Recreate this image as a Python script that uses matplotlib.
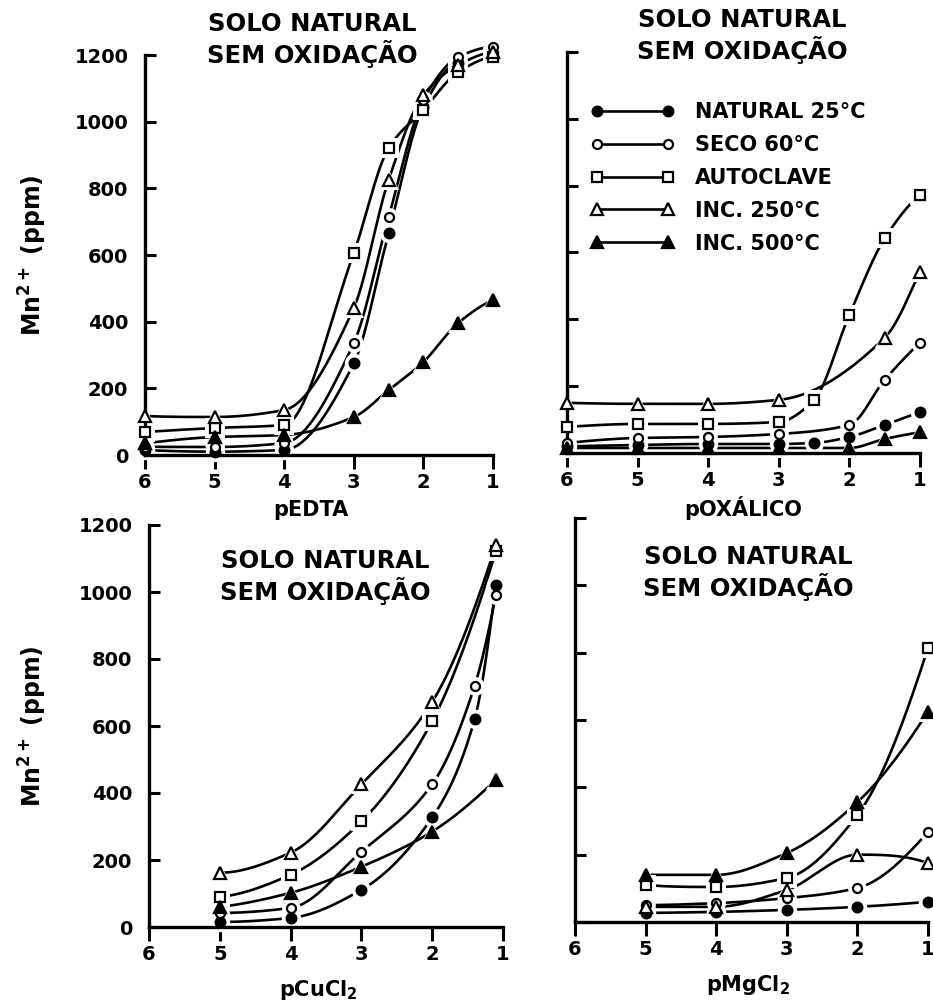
import numpy as np
import matplotlib
matplotlib.use("Agg")
import matplotlib.pyplot as plt
from matplotlib.lines import Line2D

plt.rcParams['font.family'] = ['DejaVu Sans']
plt.rcParams['font.weight'] = 'bold'
plt.rcParams['mathtext.default'] = 'bf'

nan = np.nan

# ---------------- data ----------------
series_names = ["NATURAL 25°C", "SECO 60°C", "AUTOCLAVE", "INC. 250°C", "INC. 500°C"]

x_edta = [6, 5, 4, 3, 2.5, 2, 1.5, 1]
edta_nat = [15, 10, 15, 275, 665, 1045, 1175, nan]
edta_seco = [25, 24, 36, 336, 714, 1065, 1194, 1224]
edta_auto = [69, 81, 90, 606, 921, 1035, 1149, 1194]
edta_250 = [117, 114, 135, 441, 825, 1080, 1170, 1210]
edta_500 = [35, 54, 60, 114, 195, 279, 396, 465]

x_oxa = [6, 5, 4, 3, 2.5, 2, 1.5, 1]
oxa_nat = [20, 24, 27, 27, 30, 48, 84, 123]
oxa_seco = [30, 45, 48, 57, nan, 84, 219, 330]
oxa_auto = [78, 87, 87, 93, 159, 414, 642, 771]
oxa_250 = [150, 147, 147, 159, nan, nan, 345, 543]
oxa_500 = [15, 15, 15, 15, nan, 15, 42, 62]

x_cu = [5, 4, 3, 2, 1.4, 1.1]
cu_nat = [15, 27, 111, 327, 621, 1020]
cu_seco = [42, 57, 225, 426, 720, 990]
cu_auto = [90, 156, 315, 615, nan, 1122]
cu_250 = [162, 222, 426, 672, nan, 1140]
cu_500 = [60, 102, 180, 285, nan, 440]

x_mg = [5, 4, 3, 2, 1]
mg_nat = [27, 30, 36, 45, 60]
mg_seco = [50, 56, 71, 101, 267]
mg_auto = [110, 104, 131, 318, 814]
mg_250 = [45, 45, 95, 200, 175]
mg_500 = [140, 140, 205, 356, 625]

x_ticks = [6, 5, 4, 3, 2, 1]
y_ticks = [0, 200, 400, 600, 800, 1000, 1200]
title_lines = "SOLO NATURAL\nSEM OXIDAÇÃO"
x_titles = ["pEDTA", "pOXÁLICO", "pCuCl$_{2}$", "pMgCl$_{2}$"]
y_title = "Mn$^{2+}$ (ppm)"

# marker styles: (marker, facecolor, size)
styles = [("o", "black", 7), ("o", "white", 6.5), ("s", "white", 7),
          ("^", "white", 8), ("^", "black", 8)]


def pchip(x, y, xn):
    x = np.asarray(x, float)
    y = np.asarray(y, float)
    n = len(x)
    if n == 2:
        return np.interp(xn, x, y)
    h = np.diff(x)
    d = np.diff(y) / h
    m = np.zeros(n)
    for k in range(1, n - 1):
        if d[k - 1] * d[k] <= 0:
            m[k] = 0.0
        else:
            w1 = 2 * h[k] + h[k - 1]
            w2 = h[k] + 2 * h[k - 1]
            m[k] = (w1 + w2) / (w1 / d[k - 1] + w2 / d[k])

    def endslope(h0, h1, d0, d1):
        s = ((2 * h0 + h1) * d0 - h0 * d1) / (h0 + h1)
        if np.sign(s) != np.sign(d0):
            s = 0.0
        elif np.sign(d0) != np.sign(d1) and abs(s) > abs(3 * d0):
            s = 3 * d0
        return s
    m[0] = endslope(h[0], h[1], d[0], d[1])
    m[-1] = endslope(h[-1], h[-2], d[-1], d[-2])
    out = np.empty_like(xn, dtype=float)
    idx = np.clip(np.searchsorted(x, xn) - 1, 0, n - 2)
    for i, xv in enumerate(xn):
        k = idx[i]
        t = (xv - x[k]) / h[k]
        h00 = 2 * t**3 - 3 * t**2 + 1
        h10 = t**3 - 2 * t**2 + t
        h01 = -2 * t**3 + 3 * t**2
        h11 = t**3 - t**2
        out[i] = h00 * y[k] + h10 * h[k] * m[k] + h01 * y[k + 1] + h11 * h[k] * m[k + 1]
    return out


W, H = 933, 1005
fig = plt.figure(figsize=(W / 100, H / 100), dpi=100)


def make_axes(l, r, b, t):
    return fig.add_axes([l / W, 1 - b / H, (r - l) / W, (b - t) / H])


def style_axes(ax, show_ylabels):
    ax.set_xlim(6, 1)
    ax.set_ylim(0, 1200)
    for s in ["top", "right"]:
        ax.spines[s].set_visible(False)
    for s in ["left", "bottom"]:
        ax.spines[s].set_linewidth(2.4)
    ax.set_xticks(x_ticks)
    ax.set_xticklabels([str(v) for v in x_ticks])
    ax.set_yticks(y_ticks)
    ax.set_yticklabels([str(v) for v in y_ticks])
    ax.tick_params(axis="x", direction="out", length=10, width=2.2, pad=3,
                   labelsize=14)
    ax.tick_params(axis="y", direction="in", length=8, width=2.2, pad=12,
                   labelsize=14, labelleft=show_ylabels)
    for lab in ax.get_xticklabels() + ax.get_yticklabels():
        lab.set_fontweight("bold")


def draw_panel(ax, xs, series):
    for (vals, (mk, fc, ms)) in zip(series, styles):
        xa = np.asarray(xs, float)
        ya = np.asarray(vals, float)
        ok = ~np.isnan(ya)
        xa, ya = xa[ok], ya[ok]
        order = np.argsort(xa)
        xa, ya = xa[order], ya[order]
        xn = np.linspace(xa[0], xa[-1], 300)
        yn = pchip(xa, ya, xn)
        ax.plot(xn, yn, color="black", lw=1.9, zorder=2, clip_on=False,
                solid_capstyle="butt")
    for (vals, (mk, fc, ms)) in zip(series, styles):
        ax.plot(xs, vals, ls="none", marker=mk, ms=ms + 7, mfc="white",
                mec="white", mew=0, zorder=2.5, clip_on=False)
    for (vals, (mk, fc, ms)) in zip(series, styles):
        ax.plot(xs, vals, ls="none", marker=mk, ms=ms, mfc=fc, mec="black",
                mew=1.6, zorder=3, clip_on=False)


ax_tl = make_axes(145, 493, 455, 55)
ax_tr = make_axes(567, 920, 453, 52)
ax_bl = make_axes(149, 503, 927, 525)
ax_br = make_axes(575, 928, 922, 518)

style_axes(ax_tl, True)
style_axes(ax_tr, False)
style_axes(ax_bl, True)
style_axes(ax_br, False)

draw_panel(ax_tl, x_edta, [edta_nat, edta_seco, edta_auto, edta_250, edta_500])
draw_panel(ax_tr, x_oxa, [oxa_nat, oxa_seco, oxa_auto, oxa_250, oxa_500])
draw_panel(ax_bl, x_cu, [cu_nat, cu_seco, cu_auto, cu_250, cu_500])
draw_panel(ax_br, x_mg, [mg_nat, mg_seco, mg_auto, mg_250, mg_500])

# titles
for (cx, cy) in [(312, 40), (742, 36), (325, 577), (748, 573)]:
    fig.text(cx / W, 1 - cy / H, title_lines, ha="center", va="center",
             fontsize=17.5, fontweight="bold", linespacing=1.15)

# x axis titles
for (txt, cx, cy) in zip(x_titles, [311, 743, 318, 748], [510, 508, 990, 985]):
    fig.text(cx / W, 1 - cy / H, txt, ha="center", va="center",
             fontsize=15, fontweight="bold")

# y axis titles
for cy in [255, 726]:
    fig.text(33 / W, 1 - cy / H, y_title, ha="center", va="center",
             rotation=90, fontsize=17, fontweight="bold")

# legend
handles = []
for (mk, fc, ms) in styles:
    handles.append(Line2D([], [], color="black", lw=1.9, marker=mk, ms=ms,
                          mfc=fc, mec="black", mew=1.6))
leg = ax_tr.legend(handles, series_names, loc="upper left",
                   bbox_to_anchor=(591 / W, 1 - 102 / H),
                   bbox_transform=fig.transFigure, frameon=False,
                   numpoints=2, handlelength=4.0, handletextpad=1.0,
                   labelspacing=0.62, borderpad=0, borderaxespad=0,
                   prop={"weight": "bold", "size": 15})

fig.savefig("out.png", dpi=100, facecolor="white")
